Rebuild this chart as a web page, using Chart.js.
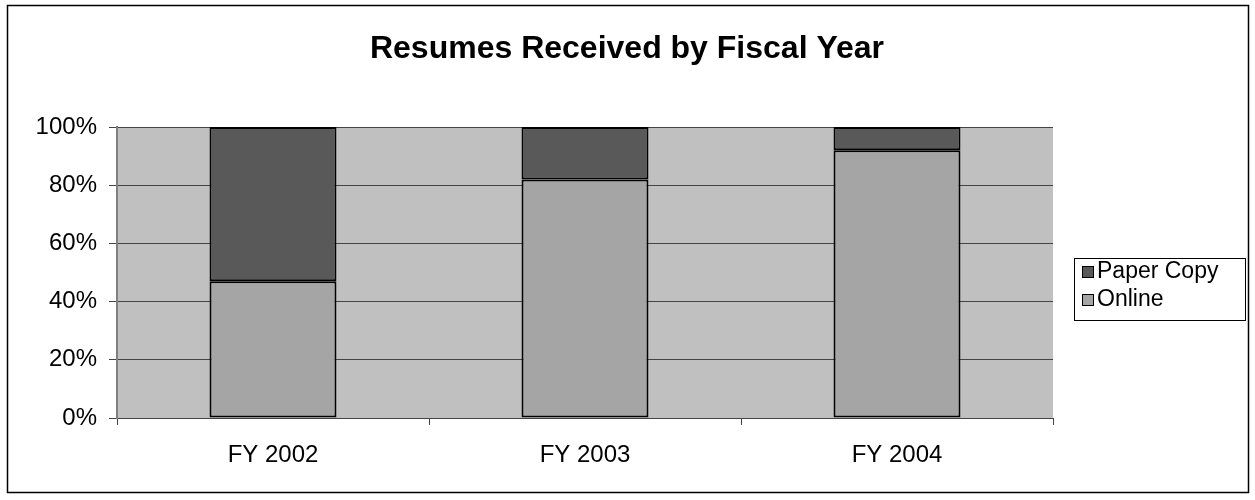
<!DOCTYPE html>
<html>
<head>
    <title>Resumes Received by Fiscal Year</title>
    <meta charset="utf-8">
    <script src="https://cdn.jsdelivr.net/npm/chart.js@4.4.1/dist/chart.umd.min.js"></script>
    <style>
      body { margin: 0; background: #fff; }
      .chart-container {
        position: relative;
        width: 1255px;
        height: 500px;
      }
    </style>
</head>
<body>
    <div class="chart-container">
        <canvas id="chart"></canvas>
    </div>

    <script>
        // data (percent of resumes)
        const chartTitle = 'Resumes Received by Fiscal Year';
        const years = ['FY 2002', 'FY 2003', 'FY 2004'];
        const online = [47, 82, 92];
        const paperCopy = [53, 18, 8];
        const yTicks = [0, 20, 40, 60, 80, 100];

        const FONT = '"Liberation Sans", Arial, sans-serif';

        // grey plot background, outer frame and title (centred on the whole canvas)
        const frame = {
            id: 'frame',
            beforeDraw(chart) {
                const c = chart.ctx, a = chart.chartArea;
                c.save();
                c.fillStyle = '#fff';
                c.fillRect(0, 0, chart.width, chart.height);
                c.fillStyle = '#c0c0c0';
                c.fillRect(a.left, a.top, a.right - a.left, a.bottom - a.top);
                c.restore();
            },
            afterDraw(chart) {
                const c = chart.ctx;
                c.save();
                c.strokeStyle = '#000';
                c.lineWidth = 1.5;
                c.strokeRect(7.5, 5.5, 1241, 487);
                c.fillStyle = '#000';
                c.font = 'bold 32px ' + FONT;
                c.textAlign = 'center';
                c.textBaseline = 'middle';
                c.fillText(chartTitle, 627, 49);
                c.restore();
            }
        };

        // boxed legend at right, top series first
        const boxLegend = {
            id: 'boxLegend',
            afterDraw(chart) {
                const c = chart.ctx;
                const x = 1074, y = 258, w = 171, h = 62;
                c.save();
                c.strokeStyle = '#000';
                c.lineWidth = 1;
                c.strokeRect(x + 0.5, y + 0.5, w, h);
                c.font = '23px ' + FONT;
                c.textBaseline = 'middle';
                const sets = chart.data.datasets.slice().reverse();
                sets.forEach((ds, i) => {
                    const cy = y + 13 + i * 28;
                    c.fillStyle = ds.backgroundColor;
                    c.fillRect(x + 8.5, cy - 4.5, 11, 11);
                    c.strokeRect(x + 8.5, cy - 4.5, 11, 11);
                    c.fillStyle = '#000';
                    c.fillText(ds.label, x + 23, cy + 1);
                });
                c.restore();
            }
        };

        let ctx = document.getElementById('chart').getContext('2d');
        let chart = new Chart(ctx, {
            type: 'bar',
            data: {
                labels: years,
                datasets: [{
                    label: 'Online',
                    data: online,
                    backgroundColor: '#a5a5a5',
                    borderColor: '#000',
                    borderWidth: 2,
                    borderSkipped: false
                }, {
                    label: 'Paper Copy',
                    data: paperCopy,
                    backgroundColor: '#595959',
                    borderColor: '#000',
                    borderWidth: 2,
                    borderSkipped: false
                }]
            },
            options: {
                responsive: true,
                maintainAspectRatio: false,
                animation: false,
                layout: {
                    padding: { left: 17, right: 202, top: 127, bottom: 22 }
                },
                datasets: {
                    bar: { categoryPercentage: 1, barPercentage: 0.407 }
                },
                plugins: {
                    legend: { display: false },
                    tooltip: { enabled: false },
                    title: { display: false }
                },
                scales: {
                    x: {
                        stacked: true,
                        afterFit: s => { s.height = 60; },
                        grid: {
                            drawOnChartArea: false,
                            drawTicks: true,
                            tickLength: 7,
                            color: '#444'
                        },
                        border: { color: '#444', width: 1 },
                        ticks: {
                            color: '#000',
                            padding: 16,
                            font: { family: FONT, size: 24 }
                        }
                    },
                    y: {
                        stacked: true,
                        min: 0,
                        max: 100,
                        afterFit: s => { s.width = 100; },
                        afterBuildTicks: s => { s.ticks = yTicks.map(v => ({ value: v })); },
                        grid: {
                            color: '#444',
                            lineWidth: 1,
                            tickLength: 8
                        },
                        border: { color: '#808080', width: 2 },
                        ticks: {
                            color: '#000',
                            padding: 12,
                            font: { family: FONT, size: 24 },
                            callback: v => v + '%'
                        }
                    }
                }
            },
            plugins: [frame, boxLegend]
        });
    </script>
</body>
</html>
